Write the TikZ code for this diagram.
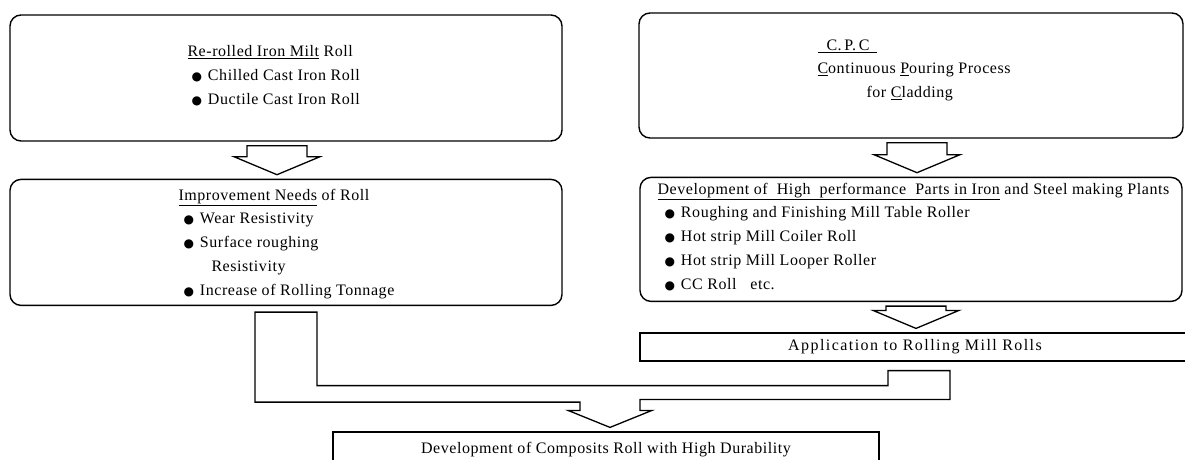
\documentclass[tikz,border=0pt]{standalone}
\usepackage{fontspec}
\setmainfont{Liberation Serif}[LetterSpace=3.5]
\newfontfamily\dotfont{DejaVu Sans}
\usetikzlibrary{positioning,calc}

\newcommand{\bul}{{\dotfont\fontsize{12}{12}\selectfont ●}\hspace{6pt}}
% block arrow: node above, node below, x offset
\newcommand{\fatarrow}[3]{%
  \coordinate (fa top) at ($(#1)+(#3,4)$);
  \coordinate (fa tip) at ($(fa top |- #2)+(0,-4)$);
  \draw [fat] ($(fa top)+(-30,0)$) -- ($(fa tip)+(-30,-18)$) -- ++(-13,0) -- (fa tip)
    -- ($(fa tip)+(43,-18)$) -- ++(-13,0) -- ($(fa top)+(30,0)$) -- cycle;}

\begin{document}
\begin{tikzpicture}[x=1pt, y=-1pt, font=\fontsize{16}{23.8}\selectfont]

        \tikzstyle{roundbox} = [draw, line width=1.4pt, rounded corners=11pt, inner sep=0pt]
        \tikzstyle{flatbox} = [draw, line width=1.2pt, inner sep=0pt]
        \tikzstyle{list} = [anchor=north west, align=left, inner sep=0pt]
        \tikzstyle{fat} = [line width=1.3pt, line join=miter, fill=white]

        \useasboundingbox (0,0) rectangle (1185,460);
        \fill [white] (0,0) rectangle (1185,460);
        \clip (0,0) rectangle (1185,460);

        % left column
        \node [roundbox, minimum width=552pt, minimum height=126pt] (reroll) at (286,78) {};
        \node [roundbox, minimum width=552pt, minimum height=126pt, below=37pt of reroll] (needs) {};

        % right column
        \node [roundbox, minimum width=544pt, minimum height=125pt] (cpc) at (911,75.5) {};
        \node [roundbox, minimum width=542pt, minimum height=124pt, below=38pt of cpc] (parts) {};
        \node [flatbox, minimum width=550pt, minimum height=28pt] (apply) at (915,347)
            {\addfontfeatures{LetterSpace=9}Application to Rolling Mill Rolls};

        % bottom
        \node [flatbox, minimum width=546pt, minimum height=36pt] (composite) at (606,450) {Development of Composits Roll with High Durability};

        % box texts
        \node [list] (reroll text) at ($(reroll.north west)+(178,31)$)
            {\underline{Re-rolled Iron Milt} Roll\\
             \hspace{4pt}\bul Chilled Cast Iron Roll\\
             \hspace{4pt}\bul Ductile Cast Iron Roll};
        \node [list] (needs text) at ($(needs.north west)+(169,10)$)
            {\underline{Improvement Needs} of Roll\\
             \hspace{5pt}\bul Wear Resistivity\\
             \hspace{5pt}\bul Surface roughing\\
             \hspace{33pt}Resistivity\\
             \hspace{5pt}\bul Increase of Rolling Tonnage};
        \node [list] (cpc text) at ($(cpc.north west)+(179,27)$)
            {\underline{\hspace{9pt}C.\,P.\,C\hspace{8pt}}\\
             \underline{C}ontinuous \underline{P}ouring Process\\
             \hspace{49pt}for \underline{C}ladding};
        \node [list] (parts text) at ($(parts.north west)+(18,6)$)
            {\underline{Development of~ High~ performance~ Parts in Iron} and Steel making Plants\\
             \hspace{7pt}\bul Roughing and Finishing Mill Table Roller\\
             \hspace{7pt}\bul Hot strip Mill Coiler Roll\\
             \hspace{7pt}\bul Hot strip Mill Looper Roller\\
             \hspace{7pt}\bul CC Roll~~ etc.};

        % arrows
        \fatarrow{reroll.south}{needs.north}{-9}
        \fatarrow{cpc.south}{parts.north}{6}
        \fatarrow{parts.south}{apply.north}{5}

        % merging arrow
        \coordinate (legL) at ($(needs.south)+(0,6)$);
        \coordinate (legR) at ($(apply.south)+(4,9)$);
        \coordinate (merge tip) at ($(composite.north)+(4,-4)$);
        \draw [fat] ($(legL)+(-31,0)$) -- ($(legL)+(31,0)$) |- ($(legR)+(-31,15)$) -- ($(legR)+(-31,0)$)
            -- ($(legR)+(31,0)$) |- ($(merge tip)+(30,-28)$) -- ($(merge tip)+(30,-17)$) -- ++(12,0)
            -- (merge tip) -- ($(merge tip)+(-42,-17)$) -- ++(12,0) |- ($(legL)+(-31,90)$) -- cycle;

    \end{tikzpicture}
\end{document}
